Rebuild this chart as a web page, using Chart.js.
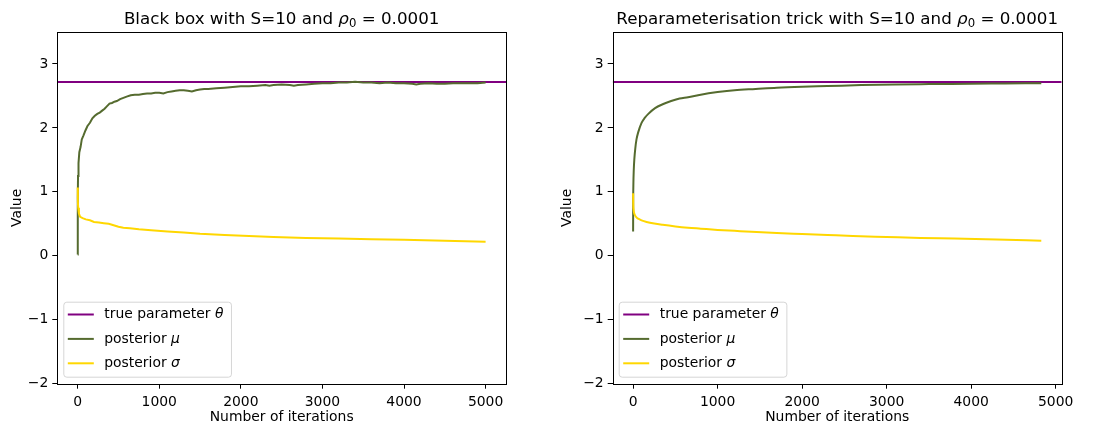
<!DOCTYPE html>
<html>
<head>
<meta charset="utf-8">
<script src="https://cdn.jsdelivr.net/npm/chart.js@4"></script>
<style>
  html, body { margin: 0; padding: 0; background: #fff; overflow: hidden; }
  .panel { position: absolute; top: 0; height: 425px; }
  #left { left: 0; width: 550px; }
  #right { left: 550px; width: 549px; }
</style>
</head>
<body>
<div class="panel" id="left"><canvas id="chartBlackBox"></canvas></div>
<div class="panel" id="right"><canvas id="chartReparam"></canvas></div>
<script>
const trueTheta = 2.718;

const xTicks = [0, 1000, 2000, 3000, 4000, 5000];
const yTicks = [-2, -1, 0, 1, 2, 3];

// black box estimator
const bbMuIters = [0, 1, 4, 10, 20, 35, 50, 70, 95, 120, 150, 180, 210, 240, 270, 300, 330, 360, 390, 420,
  450, 480, 520, 560, 600, 650, 700, 750, 800, 850, 900, 950, 1000, 1050, 1100, 1150, 1200, 1250, 1300,
  1350, 1400, 1450, 1500, 1550, 1600, 1700, 1800, 1900, 2000, 2100, 2200, 2300, 2350, 2400, 2500, 2600,
  2650, 2700, 2800, 2900, 3000, 3100, 3200, 3300, 3400, 3500, 3600, 3700, 3800, 3900, 4000, 4100, 4150,
  4200, 4300, 4400, 4500, 4600, 4700, 4800, 4900, 5000];
const bbMu = [0.02, 0.9, 1.25, 1.45, 1.62, 1.70, 1.82, 1.88, 1.96, 2.03, 2.08, 2.15, 2.19, 2.22, 2.24, 2.27,
  2.30, 2.34, 2.38, 2.39, 2.41, 2.42, 2.45, 2.47, 2.49, 2.51, 2.52, 2.52, 2.53, 2.54, 2.54, 2.55, 2.55,
  2.54, 2.56, 2.57, 2.58, 2.59, 2.59, 2.58, 2.57, 2.59, 2.60, 2.61, 2.61, 2.62, 2.63, 2.64, 2.65, 2.65,
  2.66, 2.67, 2.66, 2.67, 2.68, 2.67, 2.66, 2.67, 2.68, 2.69, 2.70, 2.70, 2.71, 2.71, 2.72, 2.71, 2.71,
  2.70, 2.71, 2.70, 2.70, 2.69, 2.68, 2.69, 2.70, 2.69, 2.69, 2.70, 2.70, 2.70, 2.70, 2.71];
const bbSigmaIters = [0, 2, 6, 15, 30, 60, 100, 150, 200, 260, 320, 380, 420, 460, 500, 560, 640, 750, 900,
  1100, 1300, 1500, 1800, 2100, 2400, 2800, 3200, 3600, 4000, 4500, 5000];
const bbSigma = [1.07, 0.85, 0.75, 0.66, 0.61, 0.59, 0.57, 0.555, 0.53, 0.52, 0.51, 0.50, 0.485, 0.47, 0.455,
  0.44, 0.43, 0.415, 0.40, 0.38, 0.365, 0.345, 0.325, 0.31, 0.295, 0.28, 0.27, 0.26, 0.25, 0.235, 0.22];

// reparameterisation estimator
const rpMuIters = [0, 1, 3, 8, 15, 25, 40, 60, 100, 140, 180, 260, 350, 450, 550, 650, 800, 1000, 1200, 1450,
  1700, 2000, 2300, 2700, 3100, 3500, 4000, 4400, 4830];
const rpMu = [0.38, 0.85, 1.1, 1.35, 1.52, 1.67, 1.82, 1.93, 2.08, 2.16, 2.22, 2.31, 2.37, 2.42, 2.46, 2.48,
  2.52, 2.56, 2.59, 2.61, 2.63, 2.645, 2.655, 2.67, 2.68, 2.685, 2.69, 2.695, 2.70];
const rpSigmaIters = [0, 2, 6, 12, 20, 40, 60, 100, 160, 250, 350, 500, 650, 800, 1000, 1200, 1400, 1700, 2000,
  2300, 2600, 3000, 3400, 3800, 4300, 4830];
const rpSigma = [0.98, 0.80, 0.72, 0.67, 0.64, 0.60, 0.58, 0.555, 0.53, 0.505, 0.485, 0.46, 0.44, 0.425, 0.405,
  0.39, 0.375, 0.355, 0.34, 0.325, 0.31, 0.295, 0.28, 0.27, 0.255, 0.235];

const FONT = "'DejaVu Sans', sans-serif";
const TICK_SIZE = 13.9;
const TITLE_SIZE = 16.7;

function points(xs, ys) {
  return xs.map((x, i) => ({ x: x, y: ys[i] }));
}

// black box around the plot area
const framePlugin = {
  id: 'frame',
  afterDatasetsDraw(chart) {
    const { ctx, chartArea: a } = chart;
    ctx.save();
    ctx.strokeStyle = '#000';
    ctx.lineWidth = 1;
    ctx.strokeRect(Math.round(a.left) + 0.5, Math.round(a.top) + 0.5,
      Math.round(a.right) - Math.round(a.left), Math.round(a.bottom) - Math.round(a.top));
    ctx.restore();
  }
};

// title with an italic rho and a subscript zero
const mathTitlePlugin = {
  id: 'mathTitle',
  afterDraw(chart, args, opts) {
    const { ctx, chartArea: a } = chart;
    const parts = [
      { text: opts.prefix, font: `${TITLE_SIZE}px ${FONT}`, dy: 0 },
      { text: 'ρ', font: `italic ${TITLE_SIZE}px ${FONT}`, dy: 0 },
      { text: '0', font: `${TITLE_SIZE * 0.7}px ${FONT}`, dy: TITLE_SIZE * 0.2 },
      { text: ' = ' + opts.value, font: `${TITLE_SIZE}px ${FONT}`, dy: 0 }
    ];
    ctx.save();
    ctx.fillStyle = '#000';
    ctx.textBaseline = 'alphabetic';
    let total = 0;
    parts.forEach(p => { ctx.font = p.font; p.w = ctx.measureText(p.text).width; total += p.w; });
    let x = (a.left + a.right) / 2 - total / 2;
    parts.forEach(p => {
      ctx.font = p.font;
      ctx.fillText(p.text, x, 24 + p.dy);
      x += p.w;
    });
    ctx.restore();
  }
};

// framed legend in the lower left corner, greek letters in italics
const boxLegendPlugin = {
  id: 'boxLegend',
  afterDraw(chart) {
    const { ctx, chartArea: a } = chart;
    const sets = chart.data.datasets;
    const rowGap = 24.4;
    const h = 75;
    const left = a.left + 6.5;
    const top = a.bottom - 6.5 - h;
    const textX = left + 40.5;

    ctx.save();
    let maxW = 0;
    const rows = sets.map(ds => {
      const head = ds.label.slice(0, -1);
      const sym = ds.label.slice(-1);
      ctx.font = `${TICK_SIZE}px ${FONT}`;
      const wHead = ctx.measureText(head).width;
      ctx.font = `italic ${TICK_SIZE}px ${FONT}`;
      const wSym = ctx.measureText(sym).width;
      maxW = Math.max(maxW, wHead + wSym);
      return { head, sym, wHead, color: ds.borderColor };
    });
    const w = textX - left + maxW + 8;

    ctx.beginPath();
    ctx.roundRect(left, top, w, h, 3);
    ctx.fillStyle = 'rgba(255,255,255,0.8)';
    ctx.fill();
    ctx.strokeStyle = 'rgba(204,204,204,0.8)';
    ctx.lineWidth = 1;
    ctx.stroke();

    rows.forEach((r, i) => {
      const y = top + 12.3 + i * rowGap;
      ctx.beginPath();
      ctx.moveTo(left + 4, y);
      ctx.lineTo(left + 30, y);
      ctx.strokeStyle = r.color;
      ctx.lineWidth = 2;
      ctx.stroke();
      ctx.fillStyle = '#000';
      ctx.textBaseline = 'middle';
      ctx.font = `${TICK_SIZE}px ${FONT}`;
      ctx.fillText(r.head, textX, y);
      ctx.font = `italic ${TICK_SIZE}px ${FONT}`;
      ctx.fillText(r.sym, textX + r.wHead, y);
    });
    ctx.restore();
  }
};

function makeChart(id, cfg) {
  const tickFont = { family: FONT, size: TICK_SIZE };
  return new Chart(document.getElementById(id), {
    type: 'line',
    data: {
      datasets: [
        {
          label: 'true parameter θ',
          data: [{ x: cfg.xMin, y: trueTheta }, { x: cfg.xMax, y: trueTheta }],
          borderColor: '#800080',
          order: 2
        },
        {
          label: 'posterior μ',
          data: points(cfg.muIters, cfg.mu),
          borderColor: '#556b2f',
          cubicInterpolationMode: cfg.smooth ? 'monotone' : 'default',
          order: 1
        },
        {
          label: 'posterior σ',
          data: points(cfg.sigmaIters, cfg.sigma),
          borderColor: '#ffd700',
          cubicInterpolationMode: cfg.smooth ? 'monotone' : 'default',
          order: 0
        }
      ]
    },
    options: {
      responsive: true,
      maintainAspectRatio: false,
      animation: false,
      elements: {
        point: { radius: 0 },
        line: { borderWidth: 2, tension: 0 }
      },
      layout: { padding: { top: 32, right: cfg.padRight, bottom: 0, left: 0 } },
      plugins: {
        legend: { display: false },
        tooltip: { enabled: false },
        title: { display: false },
        mathTitle: { prefix: cfg.titlePrefix, value: '0.0001' }
      },
      scales: {
        x: {
          type: 'linear',
          min: cfg.xMin,
          max: cfg.xMax,
          afterBuildTicks: s => { s.ticks = xTicks.map(v => ({ value: v })); },
          afterFit: s => { s.height = 41.3; },
          ticks: {
            font: tickFont, color: '#000', padding: 5, maxRotation: 0, autoSkip: false,
            callback: v => String(v)
          },
          grid: { drawOnChartArea: false, tickLength: 5, tickColor: '#000', tickWidth: 1 },
          border: { display: false },
          title: {
            display: true, text: 'Number of iterations', color: '#000',
            font: tickFont, padding: { top: 0, bottom: -1 }
          }
        },
        y: {
          type: 'linear',
          min: -2,
          max: 3.5,
          afterBuildTicks: s => { s.ticks = yTicks.map(v => ({ value: v })); },
          afterFit: s => { s.width = cfg.yAxisWidth; },
          ticks: {
            font: tickFont, color: '#000', padding: 4, autoSkip: false,
            callback: v => (v < 0 ? '\u2212' + Math.abs(v) : String(v))
          },
          grid: { drawOnChartArea: false, tickLength: 5, tickColor: '#000', tickWidth: 1 },
          border: { display: false },
          title: {
            display: true, text: 'Value', color: '#000',
            font: tickFont, padding: { top: 9, bottom: 0 }
          }
        }
      }
    },
    plugins: [framePlugin, mathTitlePlugin, boxLegendPlugin]
  });
}

makeChart('chartBlackBox', {
  titlePrefix: 'Black box with S=10 and ',
  xMin: -250, xMax: 5250,
  yAxisWidth: 57.3, padRight: 44,
  muIters: bbMuIters, mu: bbMu,
  sigmaIters: bbSigmaIters, sigma: bbSigma,
  smooth: false
});

makeChart('chartReparam', {
  titlePrefix: 'Reparameterisation trick with S=10 and ',
  xMin: -241.5, xMax: 5071.5,
  yAxisWidth: 62.7, padRight: 37.3,
  muIters: rpMuIters, mu: rpMu,
  sigmaIters: rpSigmaIters, sigma: rpSigma,
  smooth: true
});
</script>
</body>
</html>
